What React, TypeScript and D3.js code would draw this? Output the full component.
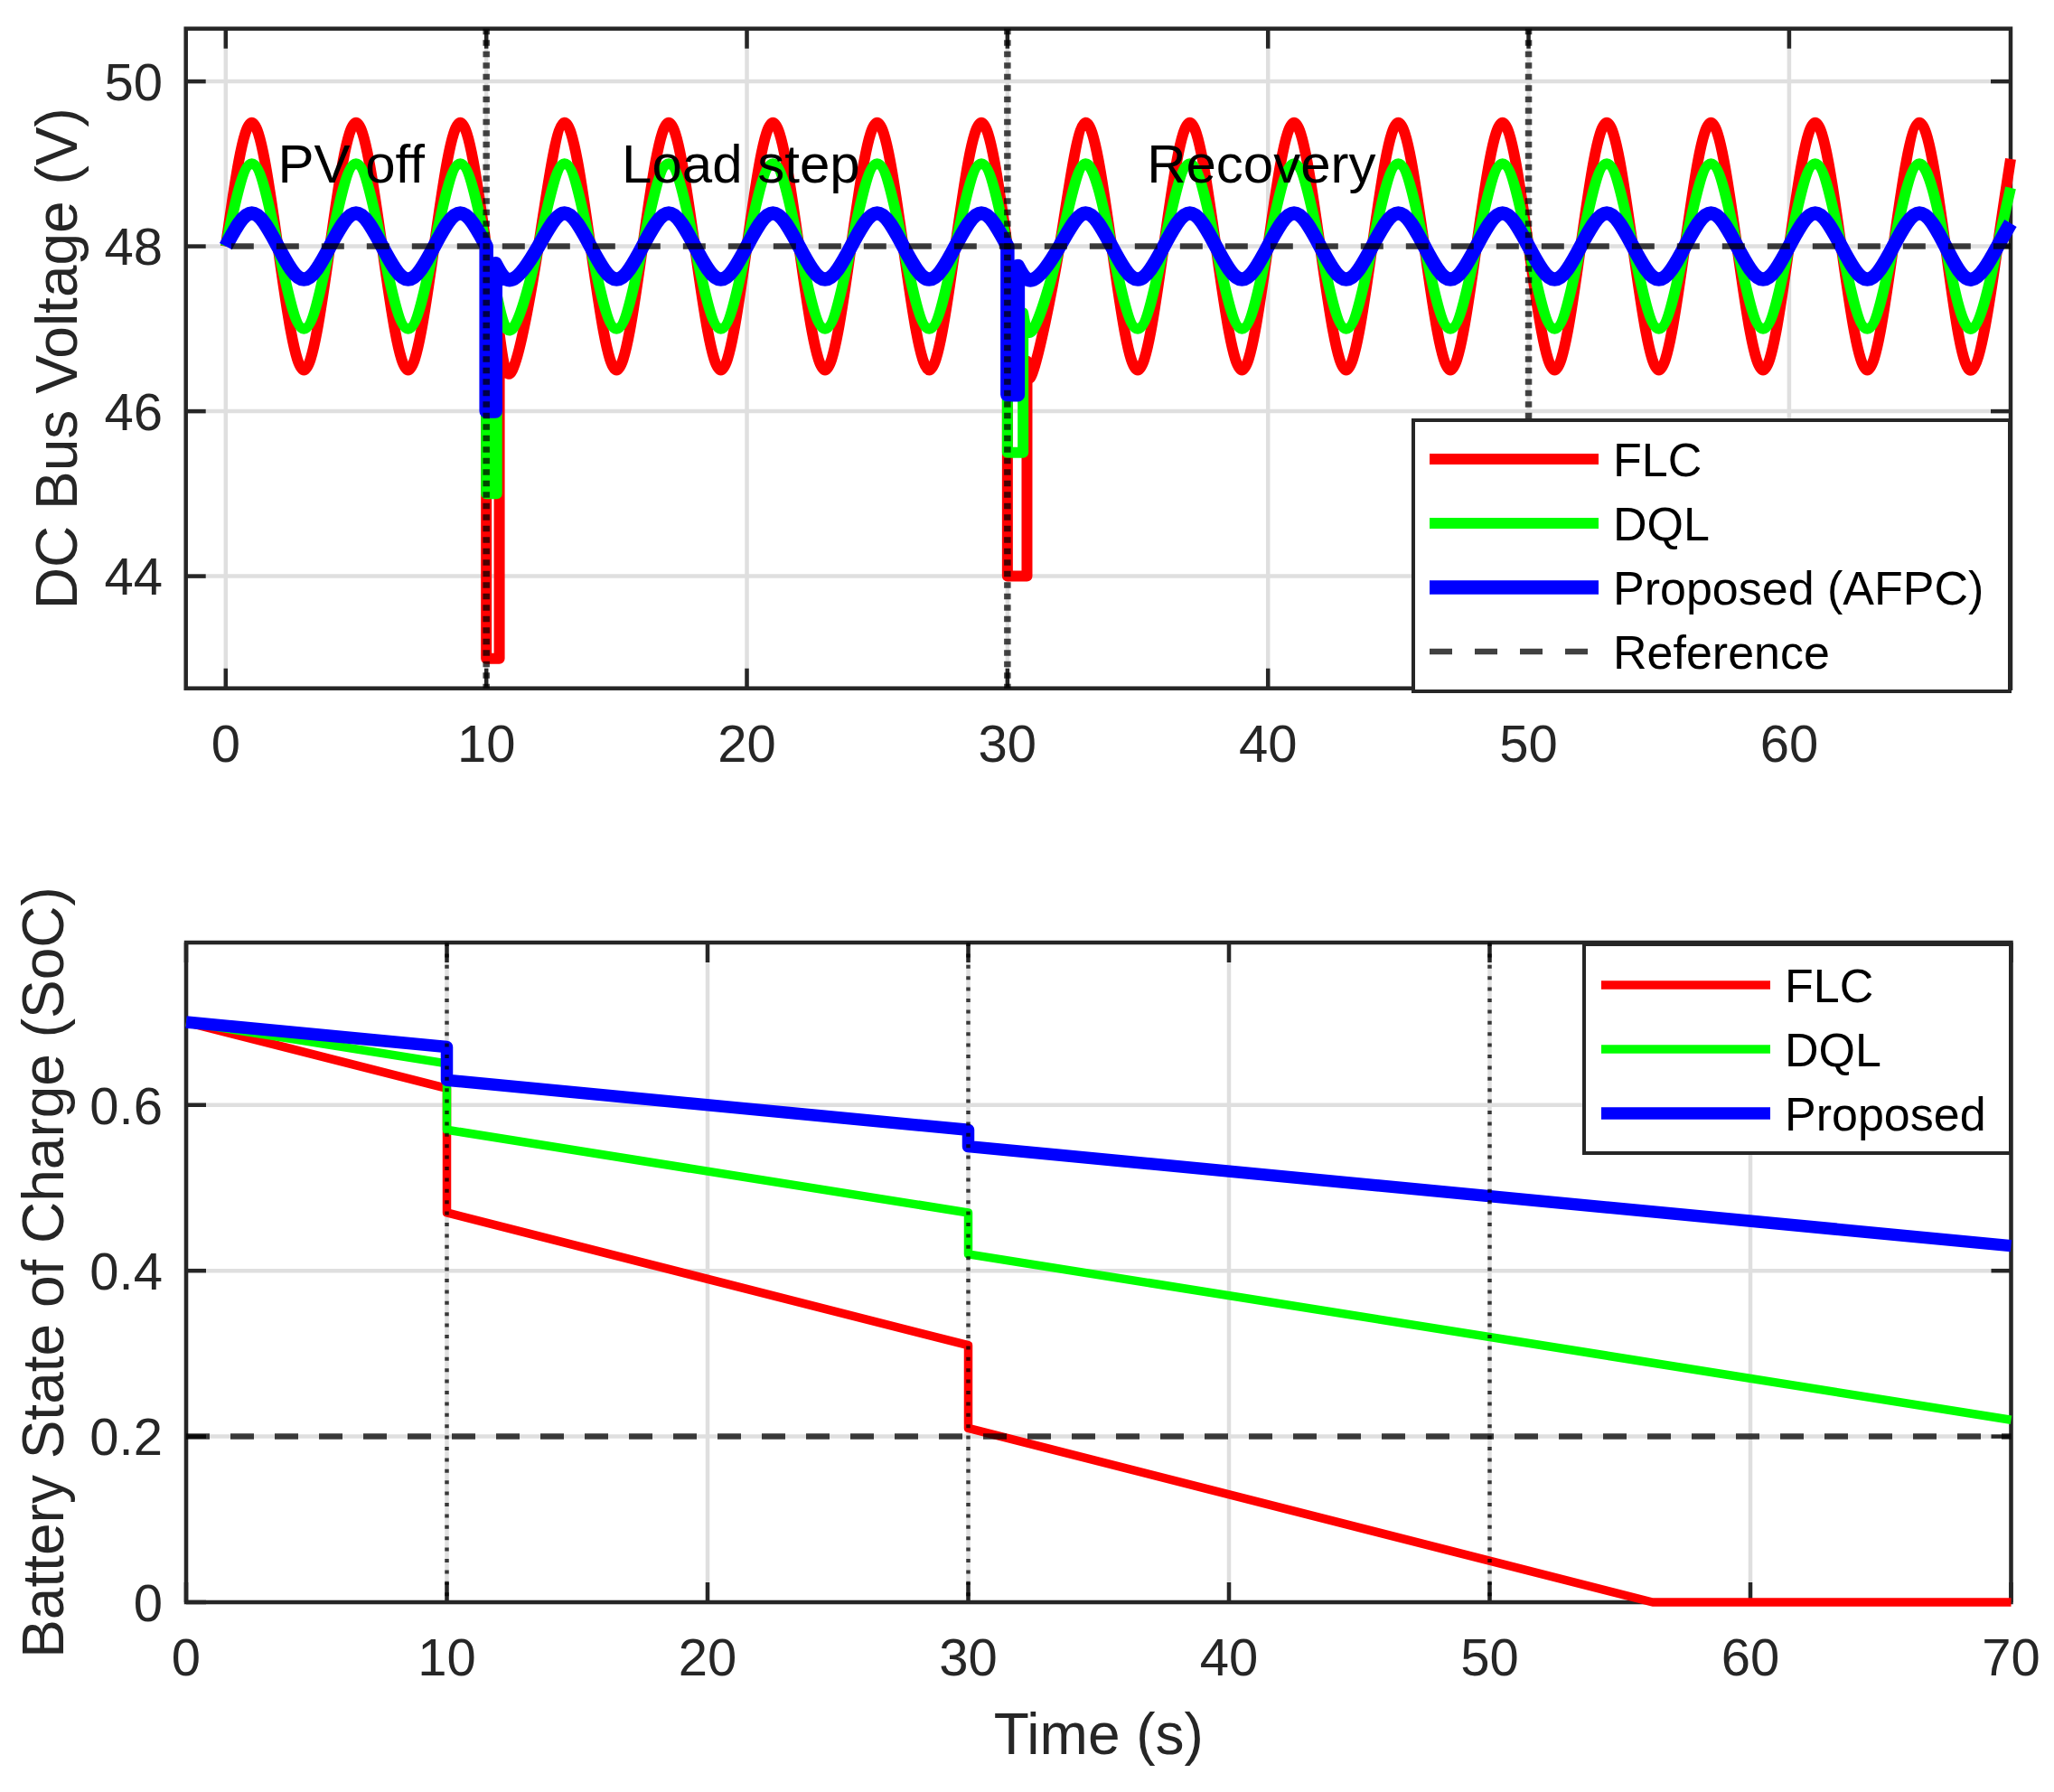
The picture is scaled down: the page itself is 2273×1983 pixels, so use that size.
import React from "react";
import * as d3 from "d3";

const FONT = "'Liberation Sans', Arial, Helvetica, sans-serif";

// ---- top panel: DC bus voltage, read once per second off the figure ----
const tGrid = [
  0, 1, 2, 3, 4, 5, 6, 7, 8, 9, 10, 11, 12, 13, 14, 15, 16, 17, 18, 19, 20, 21,
  22, 23, 24, 25, 26, 27, 28, 29, 30, 31, 32, 33, 34, 35, 36, 37, 38, 39, 40,
  41, 42, 43, 44, 45, 46, 47, 48, 49, 50, 51, 52, 53, 54, 55, 56, 57, 58, 59,
  60, 61, 62, 63, 64, 65, 66, 67, 68, 68.5,
];

const flcV = [
  48, 49.5, 48, 46.5, 48, 49.5, 48, 46.5,
  48, 49.5, 48, 46.5, 48, 49.5, 48, 46.5,
  48, 49.5, 48, 46.5, 48, 49.5, 48, 46.5,
  48, 49.5, 48, 46.5, 48, 49.5, 48, 46.5,
  48, 49.5, 48, 46.5, 48, 49.5, 48, 46.5,
  48, 49.5, 48, 46.5, 48, 49.5, 48, 46.5,
  48, 49.5, 48, 46.5, 48, 49.5, 48, 46.5,
  48, 49.5, 48, 46.5, 48, 49.5, 48, 46.5,
  48, 49.5, 48, 46.5, 48, 49.06,
];

const dqlV = [
  48, 49, 48, 47, 48, 49, 48, 47,
  48, 49, 48, 47, 48, 49, 48, 47,
  48, 49, 48, 47, 48, 49, 48, 47,
  48, 49, 48, 47, 48, 49, 48, 47,
  48, 49, 48, 47, 48, 49, 48, 47,
  48, 49, 48, 47, 48, 49, 48, 47,
  48, 49, 48, 47, 48, 49, 48, 47,
  48, 49, 48, 47, 48, 49, 48, 47,
  48, 49, 48, 47, 48, 48.71,
];

const propV = [
  48, 48.4, 48, 47.6, 48, 48.4, 48, 47.6,
  48, 48.4, 48, 47.6, 48, 48.4, 48, 47.6,
  48, 48.4, 48, 47.6, 48, 48.4, 48, 47.6,
  48, 48.4, 48, 47.6, 48, 48.4, 48, 47.6,
  48, 48.4, 48, 47.6, 48, 48.4, 48, 47.6,
  48, 48.4, 48, 47.6, 48, 48.4, 48, 47.6,
  48, 48.4, 48, 47.6, 48, 48.4, 48, 47.6,
  48, 48.4, 48, 47.6, 48, 48.4, 48, 47.6,
  48, 48.4, 48, 47.6, 48, 48.28,
];

// voltage sags at the two disturbances
const dipStart = [10, 30];
const flcDipFloor = [43, 44];
const flcDipEnd = [10.5, 30.75];
const flcDipResume = [46.94, 46.61];
const dqlDipFloor = [45, 45.5];
const dqlDipEnd = [10.4, 30.6];
const dqlDipResume = [47.41, 47.19];
const propDipFloor = [46, 46.2];
const propDipEnd = [10.35, 30.4];
const propDipResume = [47.79, 47.76];

const refVoltage = 48;
const eventTimes = [10, 30, 50];
const phaseLabels = ["PV off", "Load step", "Recovery"];
const phaseLabelT = [2, 15.2, 35.35];
const phaseLabelV = 49;

const voltTicks = [44, 46, 48, 50];
const timeTicksTop = [0, 10, 20, 30, 40, 50, 60];

// ---- bottom panel: battery SoC breakpoints ----
const flcSocT = [0, 10, 10, 30, 30, 56.25, 70];
const flcSoc = [0.7, 0.62, 0.47, 0.31, 0.21, 0, 0];
const dqlSocT = [0, 10, 10, 30, 30, 70];
const dqlSoc = [0.7, 0.65, 0.57, 0.47, 0.42, 0.22];
const propSocT = [0, 10, 10, 30, 30, 70];
const propSoc = [0.7, 0.67, 0.63, 0.57, 0.55, 0.43];
const socMin = 0.2;

const socTicks = [0, 0.2, 0.4, 0.6];
const timeTicksBottom = [0, 10, 20, 30, 40, 50, 60, 70];

const RED = "#ff0000";
const GREEN = "#00ff00";
const BLUE = "#0000ff";
const AXIS = "#262626";

const topBox = { left: 205.7, right: 2225, top: 31.7, bottom: 761.7 };
const botBox = { left: 206, right: 2225.5, top: 1043, bottom: 1773 };

const xTop = d3.scaleLinear().domain([-1.53, 68.5]).range([topBox.left, topBox.right]);
const yTop = d3.scaleLinear().domain([42.64, 50.64]).range([topBox.bottom, topBox.top]);
const xBot = d3.scaleLinear().domain([0, 70]).range([botBox.left, botBox.right]);
const yBot = d3.scaleLinear().domain([0, 0.796]).range([botBox.bottom, botBox.top]);

type Pt = [number, number];

// smooth between samples, straight edges through the sag windows
function voltagePath(vals: number[], floor: number[], end: number[], resume: number[]) {
  const smooth = d3
    .line<Pt>()
    .x((d) => xTop(d[0]))
    .y((d) => yTop(d[1]))
    .curve(d3.curveNatural);
  const straight = d3
    .line<Pt>()
    .x((d) => xTop(d[0]))
    .y((d) => yTop(d[1]));
  const pts: Pt[] = tGrid.map((t, i) => [t, vals[i]]);
  const parts: string[] = [];
  let from = -Infinity;
  let startPt: Pt | null = null;
  for (let k = 0; k <= dipStart.length; k++) {
    const to = k < dipStart.length ? dipStart[k] : Infinity;
    const seg = pts.filter((p) => p[0] > from && p[0] <= to);
    if (startPt) seg.unshift(startPt);
    parts.push(smooth(seg) as string);
    if (k < dipStart.length) {
      const v0 = seg[seg.length - 1][1];
      parts.push(
        straight([
          [to, v0],
          [to, floor[k]],
          [end[k], floor[k]],
          [end[k], resume[k]],
        ]) as string
      );
      from = end[k];
      startPt = [end[k], resume[k]];
    }
  }
  return parts.map((s, i) => (i === 0 ? s : s.replace(/^M/, "L"))).join("");
}

const socLine = d3
  .line<Pt>()
  .x((d) => xBot(d[0]))
  .y((d) => yBot(d[1]));

const Panel = ({ box, x, y, xTicks, yTicks, children }: any) => {
  const tickLen = 22;
  return (
    <g>
      {xTicks.map((t: number) => (
        <line key={"gx" + t} x1={x(t)} x2={x(t)} y1={box.top} y2={box.bottom} stroke="#dfdfdf" strokeWidth={4.5} />
      ))}
      {yTicks.map((v: number) => (
        <line key={"gy" + v} x1={box.left} x2={box.right} y1={y(v)} y2={y(v)} stroke="#dfdfdf" strokeWidth={4.5} />
      ))}
      <rect
        x={box.left}
        y={box.top}
        width={box.right - box.left}
        height={box.bottom - box.top}
        fill="none"
        stroke={AXIS}
        strokeWidth={4.5}
      />
      {xTicks.map((t: number) => (
        <g key={"tx" + t}>
          <line x1={x(t)} x2={x(t)} y1={box.bottom} y2={box.bottom - tickLen} stroke={AXIS} strokeWidth={4.5} />
          <line x1={x(t)} x2={x(t)} y1={box.top} y2={box.top + tickLen} stroke={AXIS} strokeWidth={4.5} />
          <text x={x(t)} y={box.bottom + 81} textAnchor="middle" fontSize={58} fill={AXIS} fontFamily={FONT}>
            {String(t)}
          </text>
        </g>
      ))}
      {yTicks.map((v: number) => (
        <g key={"ty" + v}>
          <line x1={box.left} x2={box.left + tickLen} y1={y(v)} y2={y(v)} stroke={AXIS} strokeWidth={4.5} />
          <line x1={box.right} x2={box.right - tickLen} y1={y(v)} y2={y(v)} stroke={AXIS} strokeWidth={4.5} />
          <text x={180} y={y(v) + 20.8} textAnchor="end" fontSize={58} fill={AXIS} fontFamily={FONT}>
            {String(v)}
          </text>
        </g>
      ))}
      {children}
    </g>
  );
};

const Legend = ({ box, rows, rowY, sampleX0, sampleX1, textX }: any) => (
  <g>
    <rect
      x={box.x0}
      y={box.y0}
      width={box.x1 - box.x0}
      height={box.y1 - box.y0}
      fill="#ffffff"
      stroke={AXIS}
      strokeWidth={4}
    />
    {rows.map((r: any, i: number) => (
      <g key={r.label}>
        <line
          x1={sampleX0}
          x2={sampleX1}
          y1={rowY[i]}
          y2={rowY[i]}
          stroke={r.color}
          strokeWidth={r.width}
          strokeOpacity={r.opacity ?? 1}
          strokeDasharray={r.dash ?? null}
        />
        <text x={textX} y={rowY[i] + 18.6} fontSize={52} fill="#000000" fontFamily={FONT}>
          {r.label}
        </text>
      </g>
    ))}
  </g>
);

const App = () => {
  const topSeries = [
    { d: voltagePath(flcV, flcDipFloor, flcDipEnd, flcDipResume), color: RED, width: 12 },
    { d: voltagePath(dqlV, dqlDipFloor, dqlDipEnd, dqlDipResume), color: GREEN, width: 12 },
    { d: voltagePath(propV, propDipFloor, propDipEnd, propDipResume), color: BLUE, width: 15.5 },
  ];
  const botSeries = [
    { d: socLine(flcSocT.map((t, i) => [t, flcSoc[i]] as Pt)), color: RED, width: 9.5 },
    { d: socLine(dqlSocT.map((t, i) => [t, dqlSoc[i]] as Pt)), color: GREEN, width: 9.5 },
    { d: socLine(propSocT.map((t, i) => [t, propSoc[i]] as Pt)), color: BLUE, width: 13.5 },
  ];

  return (
    <div style={{ position: "absolute", left: 0, top: 0 }}>
      <svg width={2273} height={1983} style={{ display: "block", background: "#ffffff" }}>
        <rect width={2273} height={1983} fill="#ffffff" />

        {/* top panel */}
        <Panel box={topBox} x={xTop} y={yTop} xTicks={timeTicksTop} yTicks={voltTicks}>
          {topSeries.map((s, i) => (
            <path key={i} d={s.d} fill="none" stroke={s.color} strokeWidth={s.width} strokeLinejoin="round" />
          ))}
          <line
            x1={xTop(0)}
            x2={xTop(68.5)}
            y1={yTop(refVoltage)}
            y2={yTop(refVoltage)}
            stroke="#000"
            strokeOpacity={0.75}
            strokeWidth={6.5}
            strokeDasharray="25 25"
            strokeDashoffset={-6}
          />
          {eventTimes.map((t) => (
            <line
              key={t}
              x1={xTop(t)}
              x2={xTop(t)}
              y1={topBox.top}
              y2={topBox.bottom}
              stroke="#000"
              strokeOpacity={0.72}
              strokeWidth={7.5}
              strokeDasharray="6.5 6"
            />
          ))}
          {phaseLabels.map((s, i) => (
            <text
              key={s}
              x={xTop(phaseLabelT[i])}
              y={yTop(phaseLabelV) + 21}
              fontSize={60}
              fill="#000000"
              fontFamily={FONT}
            >
              {s}
            </text>
          ))}
        </Panel>
        <Legend
          box={{ x0: 1564, x1: 2224, y0: 465, y1: 765 }}
          rows={[
            { label: "FLC", color: RED, width: 12 },
            { label: "DQL", color: GREEN, width: 12 },
            { label: "Proposed (AFPC)", color: BLUE, width: 15.5 },
            { label: "Reference", color: "#000", width: 6.5, opacity: 0.75, dash: "25 25" },
          ]}
          rowY={[508, 579, 650, 721]}
          sampleX0={1582}
          sampleX1={1769}
          textX={1785}
        />
        <text
          transform={`translate(85, ${(topBox.top + topBox.bottom) / 2}) rotate(-90)`}
          textAnchor="middle"
          fontSize={64}
          fill={AXIS}
          fontFamily={FONT}
        >
          DC Bus Voltage (V)
        </text>

        {/* bottom panel */}
        <Panel box={botBox} x={xBot} y={yBot} xTicks={timeTicksBottom} yTicks={socTicks}>
          {botSeries.map((s, i) => (
            <path key={i} d={s.d as string} fill="none" stroke={s.color} strokeWidth={s.width} strokeLinejoin="round" />
          ))}
          <line
            x1={xBot(0)}
            x2={xBot(70)}
            y1={yBot(socMin)}
            y2={yBot(socMin)}
            stroke="#000"
            strokeOpacity={0.75}
            strokeWidth={6.5}
            strokeDasharray="26 23"
          />
          {eventTimes.map((t) => (
            <line
              key={t}
              x1={xBot(t)}
              x2={xBot(t)}
              y1={botBox.top}
              y2={botBox.bottom}
              stroke="#000"
              strokeOpacity={0.75}
              strokeWidth={4.5}
              strokeDasharray="4 8.4"
            />
          ))}
        </Panel>
        <Legend
          box={{ x0: 1753, x1: 2225, y0: 1045, y1: 1276 }}
          rows={[
            { label: "FLC", color: RED, width: 9.5 },
            { label: "DQL", color: GREEN, width: 9.5 },
            { label: "Proposed", color: BLUE, width: 13.5 },
          ]}
          rowY={[1090, 1161, 1232]}
          sampleX0={1772}
          sampleX1={1959}
          textX={1975}
        />
        <text
          transform={`translate(70, ${(botBox.top + botBox.bottom) / 2}) rotate(-90)`}
          textAnchor="middle"
          fontSize={64}
          fill={AXIS}
          fontFamily={FONT}
        >
          Battery State of Charge (SoC)
        </text>
        <text
          x={(botBox.left + botBox.right) / 2}
          y={1941}
          textAnchor="middle"
          fontSize={64}
          fill={AXIS}
          fontFamily={FONT}
        >
          Time (s)
        </text>
      </svg>
    </div>
  );
};

export default App;
